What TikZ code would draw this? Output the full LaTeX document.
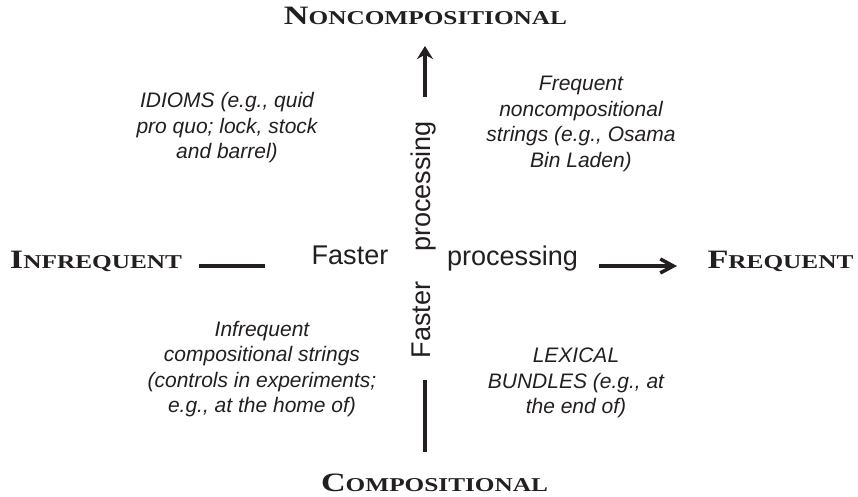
\documentclass[tikz,border=0pt]{standalone}
\usepackage{fontspec}
\setmainfont{Liberation Sans}
\newfontfamily\capsfont[FakeStretch=1.29]{Liberation Serif}
\usetikzlibrary{arrows.meta}
\definecolor{ink}{HTML}{231F20}
\newcommand{\axiscaps}[2]{{\capsfont\bfseries\fontsize{15.1}{18}\selectfont #1\fontsize{11.15}{14}\selectfont #2}}
\tikzset{
  axisline/.style={draw=ink, line width=1.75pt},
  hline/.style={draw=ink, line width=2pt},
  capslbl/.style={text=ink, inner sep=0pt, anchor=base},
  plainlbl/.style={text=ink, inner sep=0pt, anchor=base, font=\fontsize{15.4}{18}\selectfont},
  quadlbl/.style={text=ink, inner sep=0pt, align=center, font=\fontsize{11.95}{14.5}\selectfont\itshape}
}

\begin{document}
\begin{tikzpicture}
  \useasboundingbox (-8.5,-4.62) rectangle (8.66,5.32);

  % axis ends
  \coordinate (U0) at (0,3.38);
  \coordinate (U1) at (0,4.40);
  \coordinate (D0) at (0,-2.28);
  \coordinate (D1) at (0,-3.72);
  \coordinate (L0) at (-4.52,0);
  \coordinate (L1) at (-3.2,0);
  \coordinate (R0) at (3.48,0);
  \coordinate (R1) at (5.04,0);

  \draw[axisline, -{Stealth[length=0.26cm,width=0.32cm]}] (U0)--(U1);
  \draw[axisline] (D0)--(D1);
  \draw[hline] (L0)--(L1);
  \draw[hline, -{Straight Barb[length=0.26cm,width=0.28cm]}] (R0)--(R1);

  % pole labels
  \node[capslbl] (noncomp) at (0.01,4.82) {\axiscaps{N}{ONCOMPOSITIONAL}};
  \node[capslbl] (comp) at (0.19,-4.52) {\axiscaps{C}{OMPOSITIONAL}};
  \node[capslbl] (infreq) at (-6.58,-0.06) {\axiscaps{I}{NFREQUENT}};
  \node[capslbl] (freq) at (7.11,-0.06) {\axiscaps{F}{REQUENT}};

  % faster processing
  \node[plainlbl] (hfast) at (-1.5,0.02) {Faster};
  \node[plainlbl] (hproc) at (1.75,0) {processing};
  \node[plainlbl, rotate=90] (vproc) at (0.12,1.59) {processing};
  \node[plainlbl, rotate=90] (vfast) at (0.12,-1.08) {Faster};

  % quadrants
  \node[quadlbl] (idioms) at (-3.96,2.76) {IDIOMS (e.g., quid\\pro quo; lock, stock\\and barrel)};
  \node[quadlbl] (fnc) at (3.12,2.84) {Frequent\\noncompositional\\strings (e.g., Osama\\Bin Laden)};
  \node[quadlbl] (ic) at (-3.26,-2.06) {Infrequent\\compositional strings\\(controls in experiments;\\e.g., at the home of)};
  \node[quadlbl] (lb) at (3.02,-2.34) {LEXICAL\\BUNDLES (e.g., at\\the end of)};
\end{tikzpicture}
\end{document}
